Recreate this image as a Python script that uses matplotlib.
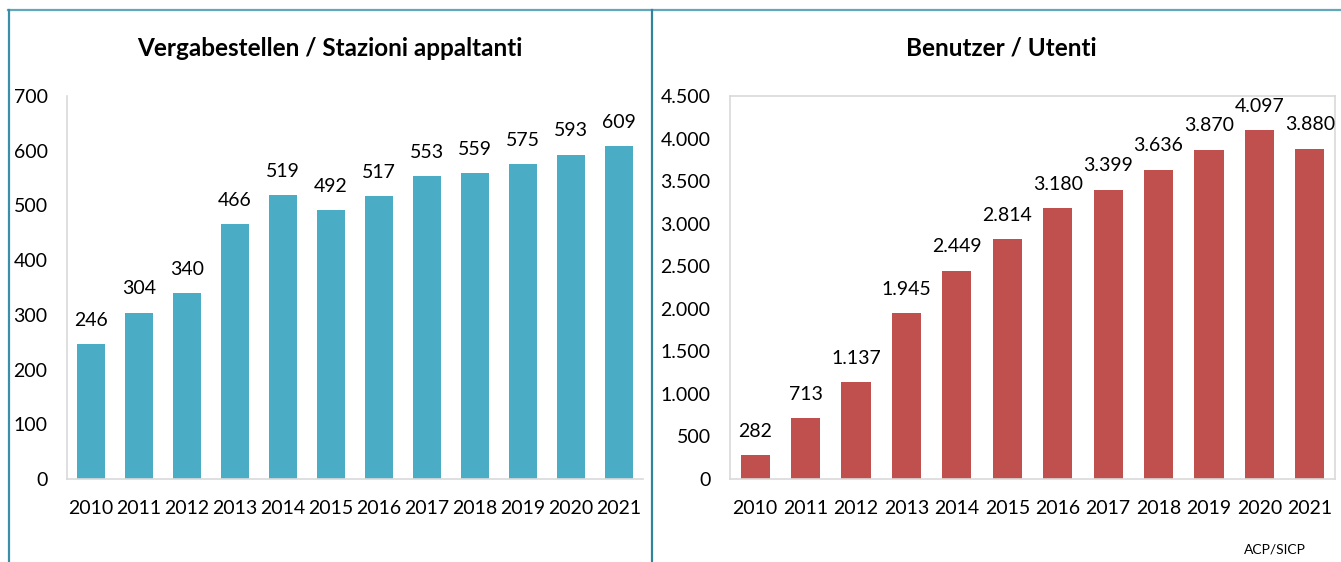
import matplotlib.pyplot as plt
from matplotlib.lines import Line2D

plt.rcParams['font.family'] = ['Lato', 'DejaVu Sans']

years = ['2010', '2011', '2012', '2013', '2014', '2015',
         '2016', '2017', '2018', '2019', '2020', '2021']
stazioni = [246, 304, 340, 466, 519, 492, 517, 553, 559, 575, 593, 609]
utenti = [282, 713, 1137, 1945, 2449, 2814, 3180, 3399, 3636, 3870, 4097, 3880]
left_ticks = [0, 100, 200, 300, 400, 500, 600, 700]
right_ticks = [0, 500, 1000, 1500, 2000, 2500, 3000, 3500, 4000, 4500]

W, H = 1341, 562


def de(v):
    return f"{v:,}".replace(",", ".")


def px(x0, y0, x1, y1):
    return [x0 / W, 1 - y1 / H, (x1 - x0) / W, (y1 - y0) / H]


def draw(ax, vals, ticks, color, box):
    x = range(len(vals))
    ax.bar(x, vals, width=0.58, color=color)
    ax.set_xlim(-0.5, len(vals) - 0.5)
    ax.set_ylim(0, ticks[-1])
    ax.set_xticks(list(x))
    ax.set_xticklabels(years)
    ax.set_yticks(ticks)
    ax.set_yticklabels([de(t) for t in ticks])
    ax.tick_params(length=0, labelsize=14, pad=15)
    ax.tick_params(axis='y', pad=14)
    for s in ['top', 'right']:
        ax.spines[s].set_visible(box)
    for s in ax.spines.values():
        s.set_color('#D9D9D9')
        s.set_linewidth(1.2)
    for i, v in enumerate(vals):
        ax.annotate(de(v), (i, v), xytext=(0, 11), textcoords='offset points',
                    ha='center', va='bottom', fontsize=14)


fig = plt.figure(figsize=(W / 100, H / 100), dpi=100)

ax1 = fig.add_axes(px(67, 96, 643, 479))
draw(ax1, stazioni, left_ticks, '#4BACC6', False)
ax2 = fig.add_axes(px(730, 96, 1335, 479))
draw(ax2, utenti, right_ticks, '#C0504D', True)

fig.text(330 / W, 1 - 48 / H, 'Vergabestellen / Stazioni appaltanti',
         ha='center', va='center', fontsize=17.5, fontweight='bold')
fig.text(1001 / W, 1 - 48 / H, 'Benutzer / Utenti',
         ha='center', va='center', fontsize=17.5, fontweight='bold')
fig.text(1275 / W, 1 - 549 / H, 'ACP/SICP', ha='center', va='center', fontsize=10)

# panel frame
frame = '#3A8FA6'
fig.add_artist(Line2D([8 / W, 1], [1 - 9.5 / H] * 2, color='#62A8BB', lw=1.6))
fig.add_artist(Line2D([8.5 / W] * 2, [0, 1 - 9.5 / H], color=frame, lw=1.6))
fig.add_artist(Line2D([651.5 / W] * 2, [0, 1 - 9.5 / H], color='#31849B', lw=1.6))

fig.savefig('out.png', dpi=100)
